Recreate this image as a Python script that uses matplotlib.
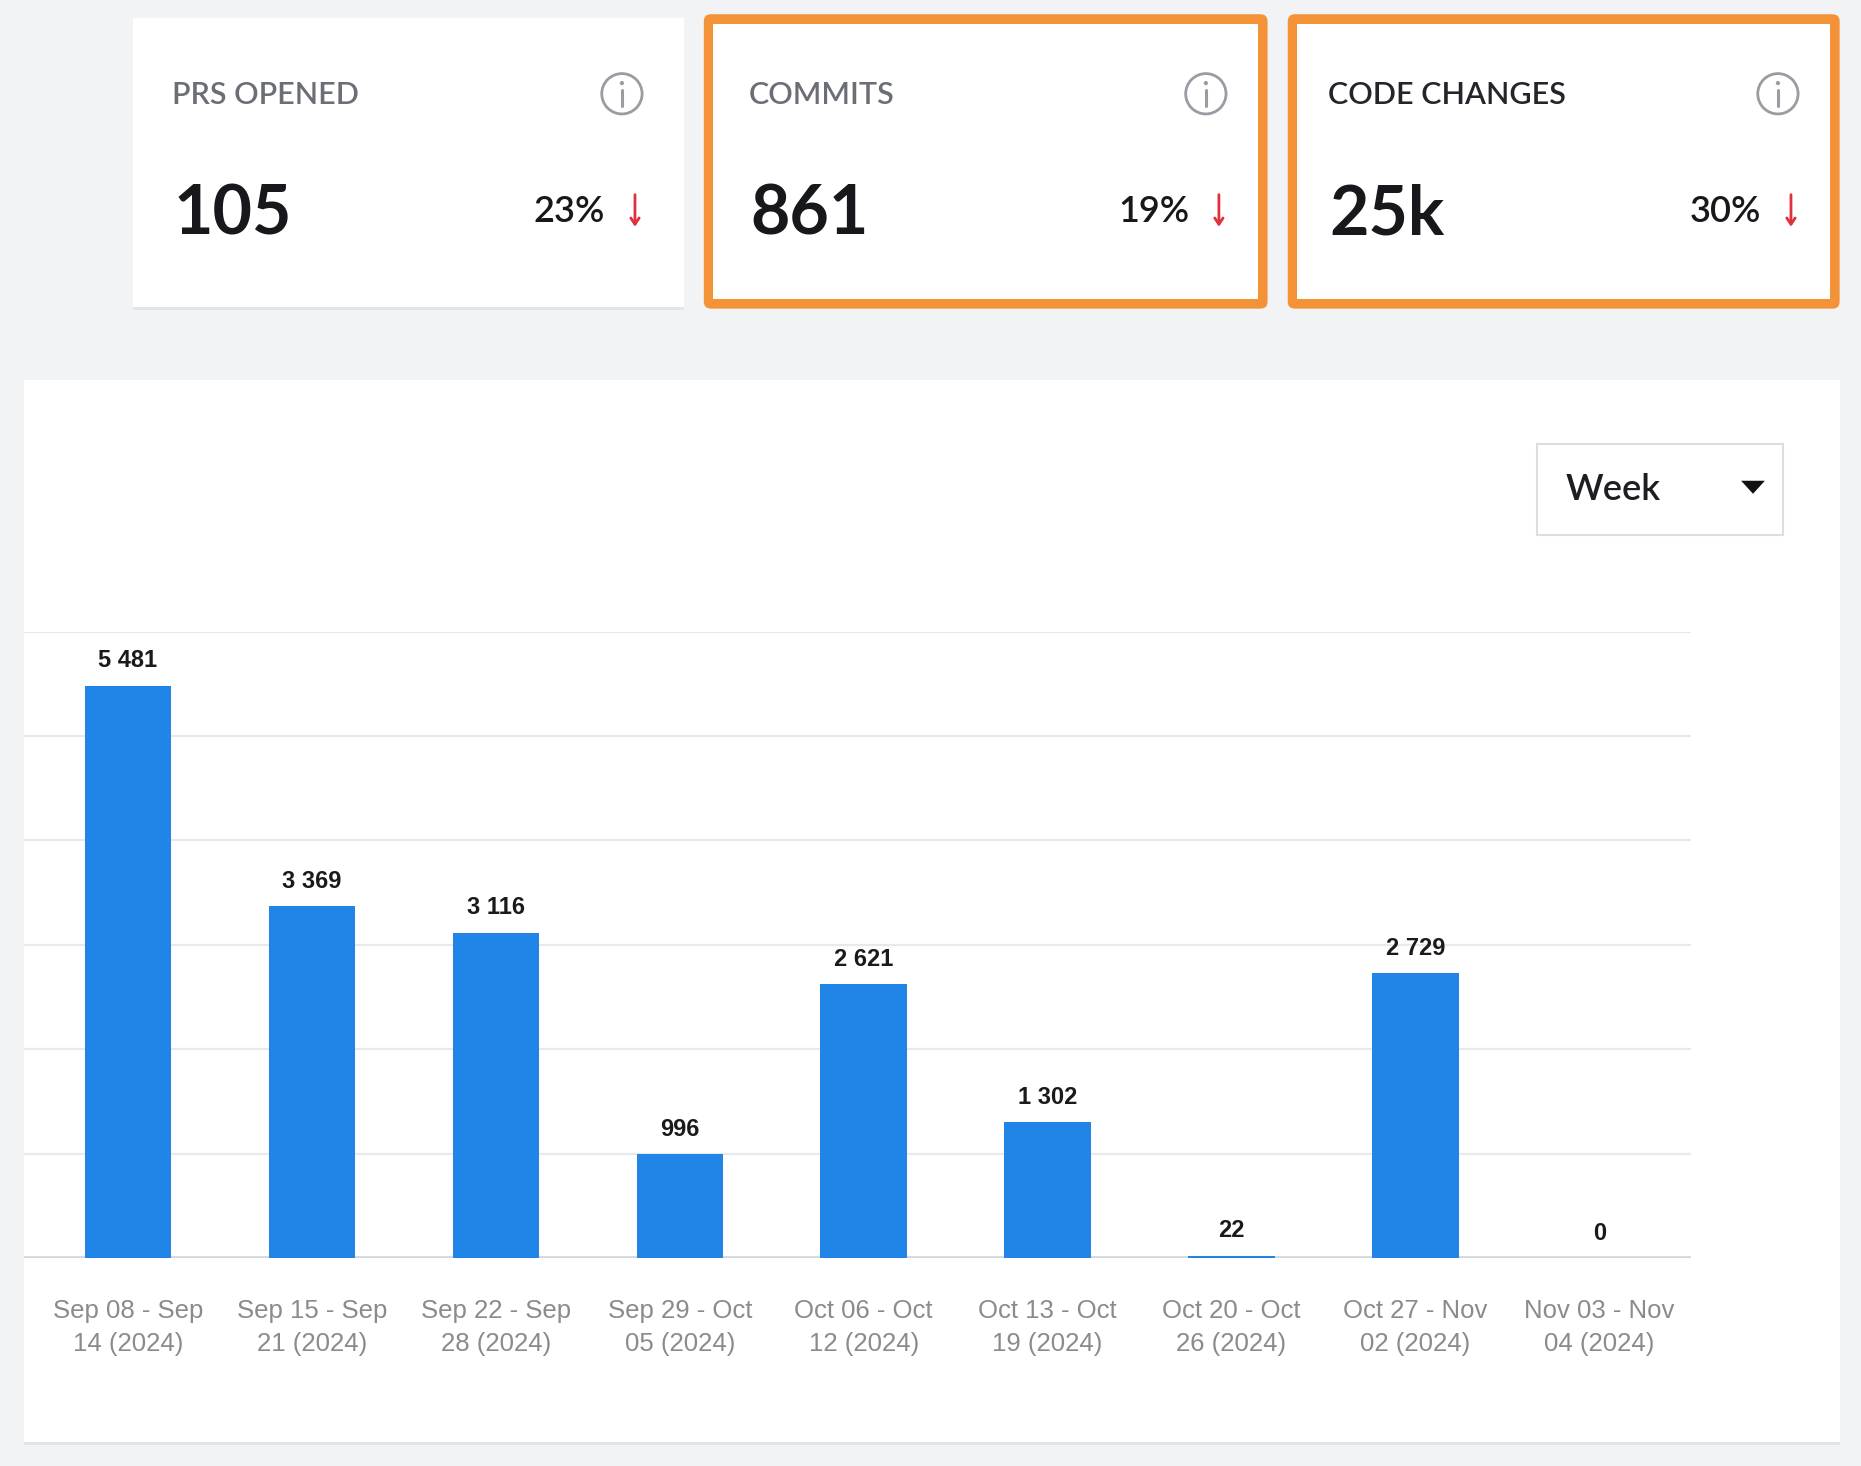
import matplotlib.pyplot as plt
from matplotlib.patches import Rectangle, FancyBboxPatch, Circle, Polygon

# KPI cards
card_titles = ["PRS OPENED", "COMMITS", "CODE CHANGES"]
card_values = ["105", "861", "25k"]
card_changes = ["23%", "19%", "30%"]
card_highlight = [False, True, True]

# weekly code changes
weeks = ["Sep 08 - Sep\n14 (2024)", "Sep 15 - Sep\n21 (2024)", "Sep 22 - Sep\n28 (2024)",
         "Sep 29 - Oct\n05 (2024)", "Oct 06 - Oct\n12 (2024)", "Oct 13 - Oct\n19 (2024)",
         "Oct 20 - Oct\n26 (2024)", "Oct 27 - Nov\n02 (2024)", "Nov 03 - Nov\n04 (2024)"]
changes = [5481, 3369, 3116, 996, 2621, 1302, 22, 2729, 0]

W, H = 1568, 1235   # layout units (screen px of the dashboard)
BG = "#f2f3f5"
ORANGE = "#f39237"
BLUE = "#2185e8"
CARD_FONT = ["Lato", "DejaVu Sans"]
CHART_FONT = ["Liberation Sans", "DejaVu Sans"]

fig = plt.figure(figsize=(18.61, 14.66), dpi=100)
fig.patch.set_facecolor(BG)

bg = fig.add_axes([0, 0, 1, 1])
bg.set_xlim(0, W)
bg.set_ylim(H, 0)
bg.axis("off")

# cards
card_left = [112, 593, 1085]
card_width = [464, 475, 465]
title_offset = [33, 38, 34]
title_colors = ["#6b6e76", "#6b6e76", "#23252a"]
for i, x0 in enumerate(card_left):
    w = card_width[i]
    if card_highlight[i]:
        bg.add_patch(FancyBboxPatch((x0, 12), w, 248, boxstyle="round,pad=0,rounding_size=6",
                                    facecolor=ORANGE, edgecolor="none"))
        bg.add_patch(Rectangle((x0 + 8, 20), w - 16, 232, facecolor="white", edgecolor="none"))
    else:
        bg.add_patch(Rectangle((x0, 17), w, 244, facecolor="#e4e5e8", edgecolor="none"))
        bg.add_patch(Rectangle((x0, 15), w, 244, facecolor="white", edgecolor="none"))
    tx = x0 + title_offset[i]
    right = x0 + w
    bg.text(tx, 80, card_titles[i], fontsize=22, fontweight="semibold", color=title_colors[i],
            family=CARD_FONT, ha="left", va="center")
    # info icon
    cx = right - 52
    bg.add_patch(Circle((cx, 79), 17, facecolor="none", edgecolor="#9a9ca3", lw=2))
    bg.add_patch(Circle((cx, 70), 1.8, facecolor="#9a9ca3", edgecolor="none"))
    bg.plot([cx, cx], [76, 89], color="#9a9ca3", lw=2.2, solid_capstyle="round")
    bg.text(tx + 1, 181, card_values[i], fontsize=49, fontweight="bold", color="#17181b",
            family=CARD_FONT, ha="left", va="center")
    bg.text(right - 66, 178, card_changes[i], fontsize=26, fontweight="semibold",
            color="#17181b", family=CARD_FONT, ha="right", va="center")
    bg.annotate("", xy=(right - 41, 191), xytext=(right - 41, 164),
                arrowprops=dict(arrowstyle="->,head_length=0.45,head_width=0.3",
                                color="#e0303c", lw=2.0, shrinkA=0, shrinkB=0))

# chart panel
bg.add_patch(Rectangle((20, 322), 1530, 895, facecolor="#e3e4e7", edgecolor="none"))
bg.add_patch(Rectangle((20, 320), 1530, 895, facecolor="white", edgecolor="none"))

# period dropdown
bg.add_patch(Rectangle((1295, 374), 207, 77, facecolor="white", edgecolor="#dcdde0", lw=1.5))
bg.text(1319, 412, "Week", fontsize=26, fontweight="semibold", color="#1d1e22",
        family=CARD_FONT, ha="left", va="center")
bg.add_patch(Polygon([[1467, 405], [1487, 405], [1477, 416]], closed=True,
                     facecolor="#111111", edgecolor="none"))

# bar chart
ax = fig.add_axes([20 / W, 1 - 1060 / H, 1405 / W, 528 / H])
ax.set_facecolor("none")
x = list(range(len(weeks)))
ax.bar(x, changes, width=0.47, color=BLUE, zorder=3)
ax.set_xlim(-0.567, 8.5)
ax.set_ylim(0, 6000)
ax.set_yticks(range(1000, 7000, 1000))
ax.grid(axis="y", color="#e9e9eb", lw=1.6, zorder=0)
ax.axhline(0, color="#d4d5d8", lw=2.6, zorder=2)
for s in ax.spines.values():
    s.set_visible(False)
ax.tick_params(axis="y", length=0, labelleft=False)
ax.tick_params(axis="x", length=0, pad=29)
ax.set_xticks(x)
ax.set_xticklabels(weeks, fontsize=18.5, color="#8a8b8f", family=CHART_FONT, linespacing=1.52)

for xi, v in zip(x, changes):
    ax.annotate(f"{v:,}".replace(",", " "), (xi, v), xytext=(0, 18), textcoords="offset points",
                ha="center", va="center", fontsize=17, fontweight="bold", color="#1a1a1a",
                family=CHART_FONT, zorder=4)

fig.savefig("out.png", dpi=100, facecolor=BG)
